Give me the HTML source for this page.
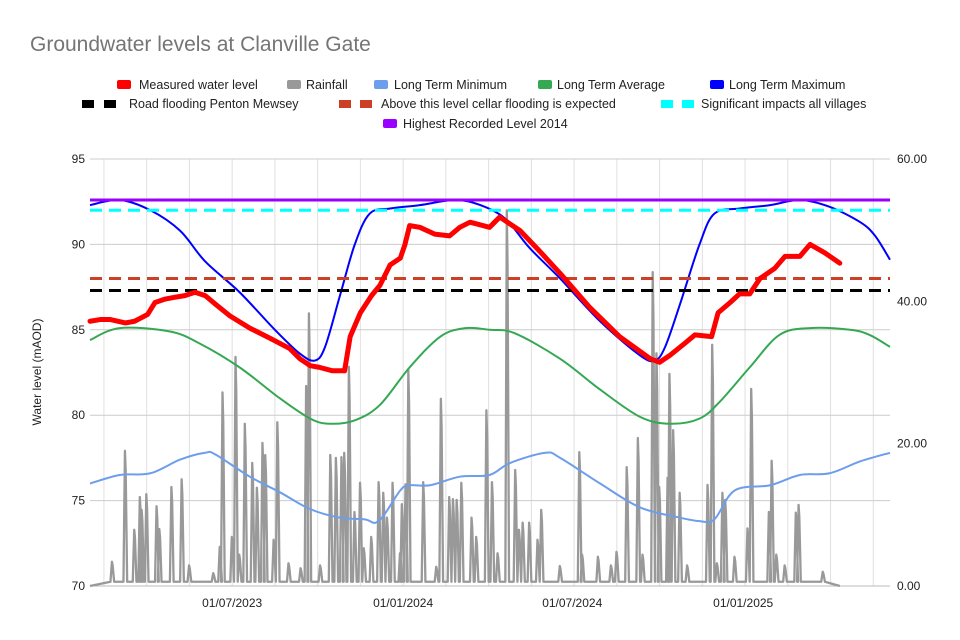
<!DOCTYPE html>
<html><head><meta charset="utf-8">
<style>
html,body{margin:0;padding:0;background:#fff;}
svg{display:block;font-family:"Liberation Sans",Arial,sans-serif;}
</style></head>
<body>
<svg id="chart" width="960" height="640" viewBox="0 0 960 640">
  <rect x="0" y="0" width="960" height="640" fill="#fff"/>
  <text x="30" y="51" font-size="21" fill="#757575">Groundwater levels at Clanville Gate</text>
  <g id="legend" font-size="12.5" fill="#222">
    <g><rect x="117" y="80" width="14" height="9" rx="2" fill="#ff0000"/><text x="139" y="89">Measured water level</text></g>
    <g><rect x="287" y="80" width="14" height="9" rx="2" fill="#999999"/><text x="306" y="89">Rainfall</text></g>
    <g><rect x="374" y="80" width="14" height="9" rx="2" fill="#6d9eeb"/><text x="394" y="89">Long Term Minimum</text></g>
    <g><rect x="538" y="80" width="14" height="9" rx="2" fill="#34a853"/><text x="557" y="89">Long Term Average</text></g>
    <g><rect x="710" y="80" width="14" height="9" rx="2" fill="#0000ff"/><text x="729" y="89">Long Term Maximum</text></g>
    <g><rect x="82" y="100" width="12" height="8" fill="#000"/><rect x="104" y="100" width="12" height="8" fill="#000"/><text x="129" y="108">Road flooding Penton Mewsey</text></g>
    <g><rect x="339" y="100" width="12" height="8" fill="#cc4125"/><rect x="360" y="100" width="12" height="8" fill="#cc4125"/><text x="381" y="108">Above this level cellar flooding is expected</text></g>
    <g><rect x="661" y="100" width="12" height="8" fill="#00ffff"/><rect x="682" y="100" width="12" height="8" fill="#00ffff"/><text x="701" y="108">Significant impacts all villages</text></g>
    <g><rect x="383" y="119" width="14" height="9" rx="2" fill="#9900ff"/><text x="403" y="128">Highest Recorded Level 2014</text></g>
  </g>
  <g id="grid"></g>
  <g id="axes" font-size="12" fill="#222"></g>
  <text transform="translate(41,372) rotate(-90)" text-anchor="middle" font-size="12" fill="#222">Water level (mAOD)</text>
  <g id="series"></g>
</svg>
<script>
// x values are days since 29/01/2023
const maxDays=[0,32,65,97,124,161,199,226,242,253,269,285,301,323,355,393,420,447,473,506,549,592,608,619,635,656,672,699,732,764,796,829,845,861];
const maxVals=[92.3,92.6,92.0,90.8,89.0,87.2,85.0,83.6,83.2,84.0,87.0,90.0,91.8,92.1,92.3,92.6,92.3,91.5,89.8,88.0,85.5,83.5,83.2,84.0,86.5,90.0,91.8,92.1,92.3,92.6,92.2,91.3,90.5,89.1];
const avgDays=[0,32,86,118,161,204,237,258,285,312,344,377,404,430,457,506,549,592,624,656,678,710,742,775,818,839,861];
const avgVals=[84.4,85.1,84.9,84.2,82.8,81.0,79.8,79.5,79.7,80.6,82.8,84.6,85.1,85.0,84.8,83.3,81.5,79.9,79.5,79.8,80.8,82.8,84.7,85.1,85.0,84.7,84.0];
const minDays=[0,32,65,97,124,135,172,204,237,269,296,307,317,334,344,366,398,430,452,490,506,549,592,635,656,672,694,732,764,796,829,861];
const minVals=[76.0,76.5,76.6,77.4,77.8,77.7,76.4,75.5,74.5,74.0,73.9,73.7,74.2,75.6,75.9,75.9,76.4,76.5,77.2,77.8,77.5,76.0,74.6,74.0,73.8,73.9,75.6,75.9,76.5,76.6,77.3,77.8];
const measDays=[0,11,22,38,48,62,70,81,91,102,113,124,135,151,172,194,215,226,237,247,261,274,280,291,303,312,323,334,339,344,355,371,387,398,409,430,441,463,484,506,538,570,603,613,624,640,651,669,676,689,699,710,721,737,748,764,775,791,807];
const measVals=[85.5,85.6,85.6,85.4,85.5,85.9,86.6,86.8,86.9,87.0,87.2,87.0,86.5,85.8,85.1,84.5,83.9,83.3,82.9,82.8,82.6,82.6,84.6,86.0,87.0,87.6,88.8,89.2,90.0,91.1,91.0,90.6,90.5,91.0,91.3,91.0,91.6,90.8,89.6,88.3,86.3,84.6,83.3,83.1,83.5,84.2,84.7,84.6,86.0,86.6,87.1,87.1,88.0,88.6,89.3,89.3,90.0,89.5,88.9];
const rainDays=[24,38,48,54,56,61,72,75,88,99,107,133,140,143,153,157,161,167,175,180,186,189,198,202,214,227,233,236,248,259,265,271,274,279,285,291,295,303,311,316,320,326,334,336,340,343,359,373,378,387,391,395,400,411,416,427,433,439,449,458,462,466,473,482,486,506,527,530,547,561,567,578,590,595,606,610,613,622,624,628,635,643,665,670,675,681,684,694,708,712,731,734,739,748,760,763,789];
const rainMm=[3.4,19.0,7.9,12.5,10.7,12.9,11.2,8.0,13.9,15.0,2.9,1.8,5.5,27.2,6.9,32.2,4.4,22.8,17.3,13.8,20.1,18.4,6.5,23.0,3.2,2.5,28.1,38.3,2.9,18.4,18.0,18.1,18.7,30.8,10.4,14.5,5.3,6.9,14.6,13.1,9.6,14.5,4.6,11.5,14.3,30.3,14.6,2.7,26.3,12.5,12.2,12.1,14.5,9.6,6.9,24.7,14.6,4.6,52.8,16.3,7.9,8.9,8.9,6.5,10.7,2.8,18.8,4.4,4.1,2.9,4.8,16.7,20.8,4.4,44.1,32.7,13.9,15.2,29.8,21.9,13.1,2.9,14.2,33.9,3.2,13.1,12.1,4.1,8.1,27.7,10.4,17.6,4.4,2.9,10.3,11.4,2.0];
const leftTicks=[70,75,80,85,90,95];
const rightTicks=[0,20,40,60];
const xTickDays=[153,337,519,703];
const xTickLabels=["01/07/2023","01/01/2024","01/07/2024","01/01/2025"];
const refLevels=[87.3,88.0,92.0,92.6];
const refColors=["#000000","#cc4125","#00ffff","#9900ff"];
const refNames=["road-flooding-line","cellar-flooding-line","significant-impacts-line","highest-2014-line"];

const NS="http://www.w3.org/2000/svg";
const L=90,R=890,T=159,B=586,DMAX=861;
const xS=d=>L+d*(R-L)/DMAX;
const yL=v=>B-(v-70)/25*(B-T);
const yR=v=>B-v/60*(B-T);
function mk(tag,attrs,parent){const e=document.createElementNS(NS,tag);for(const k in attrs)e.setAttribute(k,attrs[k]);parent.appendChild(e);return e;}
const grid=document.getElementById('grid'),axes=document.getElementById('axes'),ser=document.getElementById('series');
for(let k=-3;k<=15;k++){const x=xS(153)+k*(xS(337)-xS(153))/4;if(x<=L+2||x>R)continue;
 const g=mk('line',{x1:x,x2:x,y1:T,y2:B,stroke:'#e0e0e0','stroke-width':1},grid);
 
 }
leftTicks.forEach(v=>{const y=yL(v);
 const g=mk('line',{x1:L,x2:R,y1:y,y2:y,stroke:v===70?'#bbbbbb':'#cccccc','stroke-width':1},grid);
 
 
 const t=mk('text',{x:85,y:y+4,'text-anchor':'end'},axes);t.textContent=v;
 
 });
rightTicks.forEach(v=>{const t=mk('text',{x:897,y:yR(v)+4,'text-anchor':'start'},axes);t.textContent=v.toFixed(2);
 
 });
xTickDays.forEach((d,i)=>{const t=mk('text',{x:xS(d),y:607,'text-anchor':'middle'},axes);t.textContent=xTickLabels[i];
 
 });
let rp=[];rainDays.forEach((d,i)=>{rp.push([xS(d-2),yR(0.6)],[xS(d-0.4),yR(rainMm[i])],[xS(d+0.4),yR(rainMm[i]*0.85)],[xS(d+2),yR(0.6)]);});
const rain=mk('polyline',{points:[[xS(0),yR(0)]].concat(rp,[[xS(807),yR(0)]]).map(p=>p.join(',')).join(' '),fill:'none',stroke:'#999999','stroke-width':2.3,'stroke-linejoin':'round'},ser);


function smooth(days,vals){const p=days.map((d,i)=>[xS(d),yL(vals[i])]);let s='M'+p[0];for(let i=0;i<p.length-1;i++){const p0=p[i-1]||p[i],p1=p[i],p2=p[i+1],p3=p[i+2]||p2;
 s+=' C'+(p1[0]+(p2[0]-p0[0])/6)+','+(p1[1]+(p2[1]-p0[1])/6)+' '+(p2[0]-(p3[0]-p1[0])/6)+','+(p2[1]-(p3[1]-p1[1])/6)+' '+p2;}return s;}
const mn=mk('path',{d:smooth(minDays,minVals),fill:'none',stroke:'#6d9eeb','stroke-width':2},ser);


const av=mk('path',{d:smooth(avgDays,avgVals),fill:'none',stroke:'#34a853','stroke-width':2},ser);


const mx=mk('path',{d:smooth(maxDays,maxVals),fill:'none',stroke:'#0000ff','stroke-width':2},ser);


refLevels.forEach((v,i)=>{const a={x1:L,x2:R,y1:yL(v),y2:yL(v),stroke:refColors[i],'stroke-width':3};if(i<3)a['stroke-dasharray']='12,7';
 const l=mk('line',a,ser);
 
 });
const me=mk('polyline',{points:measDays.map((d,i)=>xS(d)+','+yL(measVals[i])).join(' '),fill:'none',stroke:'#ff0000','stroke-width':5,'stroke-linejoin':'round','stroke-linecap':'round'},ser);


</script>
</body></html>
